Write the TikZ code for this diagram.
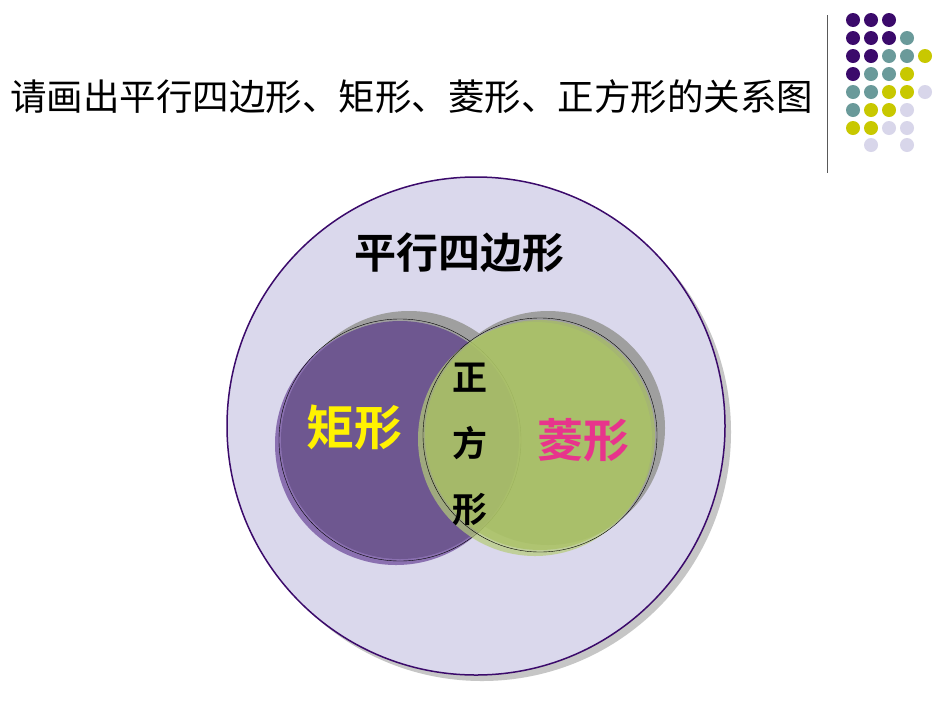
\documentclass[tikz,border=0pt]{standalone}
\usepackage{fontspec}
\setmainfont{Noto Sans CJK SC}
\newfontfamily\cjkb{Noto Sans CJK SC Bold}
\begin{document}
\begin{tikzpicture}[x=1pt,y=-1pt]
\definecolor{dp}{HTML}{3B0A6B}\definecolor{tl}{HTML}{6A9A9A}
\definecolor{yl}{HTML}{C8C800}\definecolor{lv}{HTML}{D8D6EA}
\definecolor{bigfill}{HTML}{DAD8EC}\definecolor{rect}{HTML}{6E5790}
\definecolor{rectl}{HTML}{8A70B0}\definecolor{rh}{HTML}{A8C060}
\definecolor{rhl}{HTML}{B5CC78}\definecolor{pink}{HTML}{E8348C}
\tikzset{dot/.style={circle,inner sep=0pt,minimum size=14pt},
 lab/.style={font=\cjkb\fontsize{#1}{#1}\selectfont,inner sep=0pt}}
\useasboundingbox (0,0) rectangle (950,713);
\fill[white] (0,0) rectangle (950,713);
% title
\node[font=\fontsize{36.5}{36.5}\selectfont,anchor=west,inner sep=0pt] (title) at (10,97) {请画出平行四边形、矩形、菱形、正方形的关系图};
\draw[gray!70!black,line width=1pt] (827,15) -- (827,173);
% dots
\foreach \r/\cols in {0/{dp,dp,dp},1/{dp,dp,dp,tl},2/{dp,dp,tl,tl,yl},3/{dp,tl,tl,yl},4/{tl,tl,yl,yl,lv},5/{tl,yl,yl,lv},6/{yl,yl,lv,lv}}{
 \foreach \c [count=\i from 0] in \cols {\node[dot,fill=\c] at (853+18*\i,20+18*\r) {};}}
\node[dot,fill=lv] at (871,145) {};\node[dot,fill=lv] at (907,145) {};
% big circle
\fill[gray!45] (482,432) circle (249);
\draw[fill=bigfill,draw=dp,line width=1.5pt] (476,426) circle (249);
\node[lab=42] (para) at (459,253) {平行四边形};
% shadows
\fill[gray!75] (409,432) circle (121);
\fill[gray!75] (548,428) circle (117);
% rectangle circle
\fill[rectl] (396,444) circle (121);
\fill[rect] (400,440) circle (119);
\draw[black] (400,440) circle (121);
% rhombus circle
\fill[rhl,opacity=0.7] (535,439) circle (117);
\fill[rh,opacity=0.7] (540,435) circle (115);
\draw[black] (540,435) circle (117);
\node[lab=48,text=yellow] (r) at (354,427) {矩形};
\node[lab=46,text=pink] (h) at (583,440) {菱形};
\node[lab=35] (s1) at (470,378) {正};
\node[lab=35] (s2) at (470,443) {方};
\node[lab=35] (s3) at (470,510) {形};
\end{tikzpicture}
\end{document}
